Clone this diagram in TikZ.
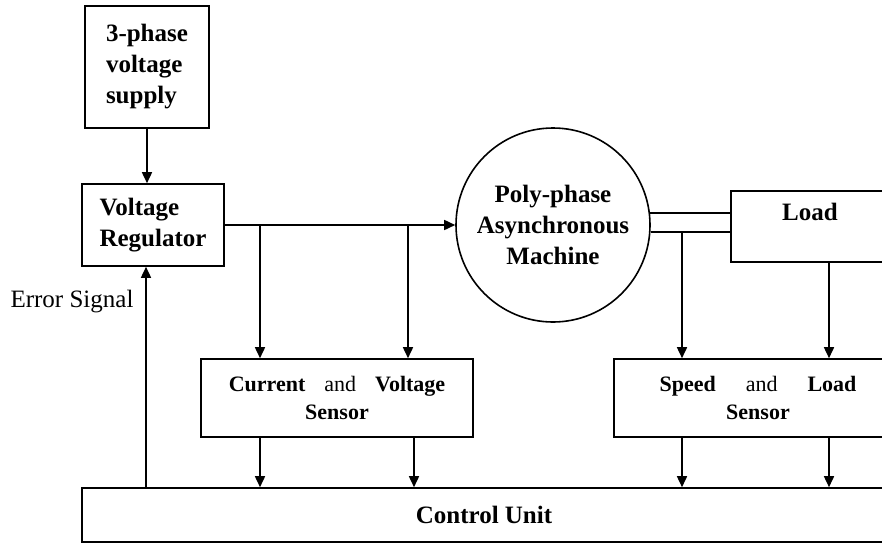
\documentclass[tikz,border=0pt]{standalone}
\usepackage{fontspec}
\setmainfont{Liberation Serif}
\usetikzlibrary{arrows.meta,positioning,calc}

\begin{document}
\begin{tikzpicture}[
    x=1pt, y=-1pt,
    >={Triangle[length=11pt,width=10pt]},
    block/.style={rectangle, draw, line width=1.6pt, align=center, font=\fontsize{25}{31}\selectfont\bfseries},
    sensor/.style={rectangle, draw, line width=1.6pt, align=center, font=\fontsize{22}{28}\selectfont},
    arrow/.style={->, line width=1.6pt},
    wire/.style={line width=1.6pt},
]
\useasboundingbox (0,0) rectangle (882,544);
\clip (0,0) rectangle (882,544);

\node[block, minimum width=124, minimum height=122, align=left] (supply) at (147,67) {3-phase\\voltage\\supply};
\node[block, minimum width=142, minimum height=82, align=left] (reg) at (153,225) {Voltage\\Regulator};
\node[block, circle, minimum size=194, inner sep=0pt] (mach) at (553,225) {Poly-phase\\Asynchronous\\Machine};
\node[block, minimum width=158, minimum height=71,
      label={[anchor=north, yshift=-9pt, font=\fontsize{25}{31}\selectfont\bfseries]north:Load}] (load) at (810,226.5) {};
\node[sensor, minimum width=272, minimum height=78] (cvs) at (337,398)
    {\textbf{Current}\hspace{19pt}and\hspace{19pt}\textbf{Voltage}\\\textbf{Sensor}};
\node[sensor, minimum width=288, minimum height=78] (sls) at (758,398)
    {\textbf{Speed}\hspace{30pt}and\hspace{30pt}\textbf{Load}\\\textbf{Sensor}};
\node[block, minimum width=804, minimum height=54] (ctrl) at (484,515) {Control Unit};
\node[font=\fontsize{25}{31}\selectfont] (err) at (72,302) {Error Signal};

% taps
\coordinate (tapA) at (260,225);
\coordinate (tapB) at (408,225);
\coordinate (outA) at (260,437);
\coordinate (outB) at (414,437);
\coordinate (tapC) at (682,233);
\coordinate (tapD) at (829,262);
\coordinate (fb) at (146,488);

\draw[arrow] (supply.south) -- (supply.south |- reg.north);
\draw[arrow] (reg.east) -- (mach.west);
\draw[arrow] (tapA) -- (tapA |- cvs.north);
\draw[arrow] (tapB) -- (tapB |- cvs.north);
\draw[arrow] (outA) -- (outA |- ctrl.north);
\draw[arrow] (outB) -- (outB |- ctrl.north);

\draw[wire] (mach.7.7) -- (mach.7.7 -| load.west);
\draw[wire] (mach.-4.7) -- (mach.-4.7 -| load.west);
\draw[arrow] (tapC) -- (tapC |- sls.north);
\draw[arrow] (tapD) -- (tapD |- sls.north);
\draw[arrow] (tapC |- sls.south) -- (tapC |- ctrl.north);
\draw[arrow] (tapD |- sls.south) -- (tapD |- ctrl.north);

\draw[arrow] (fb) -- (fb |- reg.south);
\end{tikzpicture}
\end{document}
